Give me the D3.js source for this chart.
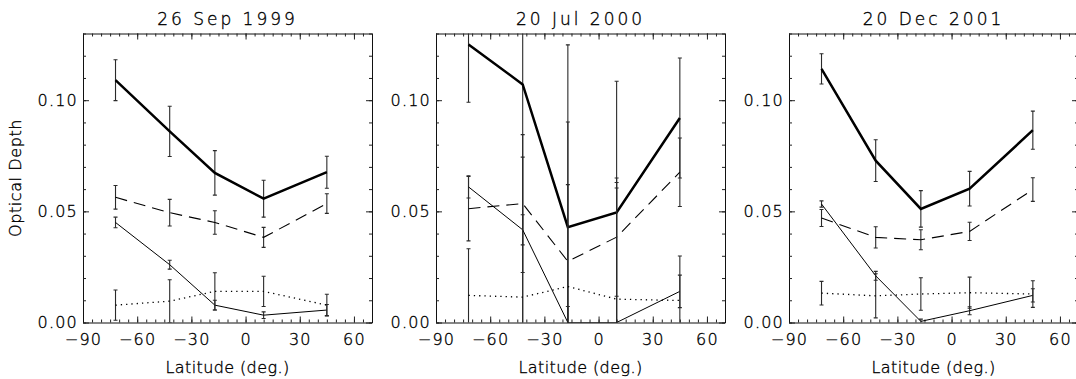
<!DOCTYPE html>
<html><head><meta charset="utf-8">
<script src="https://cdn.jsdelivr.net/npm/d3@7"></script>
<style>
html,body{margin:0;padding:0;background:#fff;overflow:hidden}
svg{display:block}
text{font-family:"DejaVu Sans",sans-serif;fill:#000;font-weight:200;stroke:#000;stroke-width:0.35px}
</style></head><body>
<svg id="chart" width="1076" height="379"></svg>
<script>
// ---------------- data ----------------
const latitudes = [-72, -42, -17, 10, 45];
const panelTitles = ["26 Sep 1999", "20 Jul 2000", "20 Dec 2001"];
const xTickValues = [-90, -60, -30, 0, 30, 60];
const yTickValues = [0.00, 0.05, 0.10];
const xDomain = [-90, 70];
const yDomain = [0, 0.13];
const xLabel = "Latitude (deg.)";
const yLabel = "Optical Depth";

// 26 Sep 1999
const thickSep1999 = [0.1090, 0.0860, 0.0673, 0.0557, 0.0676];
const thickErrSep1999 = [0.0092, 0.0113, 0.0100, 0.0083, 0.0072];
const dashedSep1999 = [0.0563, 0.0494, 0.0450, 0.0383, 0.0535];
const dashedErrSep1999 = [0.0053, 0.0060, 0.0053, 0.0045, 0.0044];
const thinSep1999 = [0.0450, 0.0260, 0.0078, 0.0033, 0.0056];
const thinErrSep1999 = [0.0024, 0.0020, 0.0022, 0.0015, 0.0025];
const dottedSep1999 = [0.0078, 0.0096, 0.0140, 0.0140, 0.0078];
const dottedErrSep1999 = [0.0068, 0.0096, 0.0084, 0.0068, 0.0049];

// 20 Jul 2000
const thickJul2000 = [0.1251, 0.1071, 0.0429, 0.0495, 0.0920];
const thickErrJul2000 = [0.0260, 0.1500, 0.0820, 0.0590, 0.0270];
const dashedJul2000 = [0.0512, 0.0535, 0.0275, 0.0384, 0.0676];
const dashedErrJul2000 = [0.0145, 0.0310, 0.0345, 0.0266, 0.0154];
const thinJul2000 = [0.0610, 0.0417, 0.0000, 0.0000, 0.0140];
const thinErrJul2000 = [0.0050, 0.0068, 0.0072, 0.0630, 0.0073];
const dottedJul2000 = [0.0122, 0.0114, 0.0162, 0.0105, 0.0099];
const dottedErrJul2000 = [0.0210, 0.0630, 0.0740, 0.0500, 0.0200];

// 20 Dec 2001
const thickDec2001 = [0.1141, 0.0728, 0.0511, 0.0602, 0.0865];
const thickErrDec2001 = [0.0068, 0.0094, 0.0082, 0.0078, 0.0086];
const dashedDec2001 = [0.0470, 0.0383, 0.0372, 0.0410, 0.0598];
const dashedErrDec2001 = [0.0038, 0.0048, 0.0045, 0.0041, 0.0053];
const thinDec2001 = [0.0533, 0.0210, 0.0005, 0.0053, 0.0122];
const thinErrDec2001 = [0.0014, 0.0020, 0.0010, 0.0018, 0.0030];
const dottedDec2001 = [0.0132, 0.0120, 0.0128, 0.0134, 0.0128];
const dottedErrDec2001 = [0.0053, 0.0099, 0.0073, 0.0070, 0.0060];

// ---------------- layout / style ----------------
const panelData = [
  [[thickSep1999, thickErrSep1999], [dashedSep1999, dashedErrSep1999], [thinSep1999, thinErrSep1999], [dottedSep1999, dottedErrSep1999]],
  [[thickJul2000, thickErrJul2000], [dashedJul2000, dashedErrJul2000], [thinJul2000, thinErrJul2000], [dottedJul2000, dottedErrJul2000]],
  [[thickDec2001, thickErrDec2001], [dashedDec2001, dashedErrDec2001], [thinDec2001, thinErrDec2001], [dottedDec2001, dottedErrDec2001]]
];
const seriesStyles = [
  {w: 2.5, dash: null},
  {w: 1.1, dash: "12,7"},
  {w: 1.0, dash: null},
  {w: 1.3, dash: "1.3,4"}
];
const panelLeft = [83, 436, 789];
const panelW = 289;
const plotTop = 33.5, plotBottom = 322.5;

const svg = d3.select("#chart");
const minorX = d3.range(-90, 71, 5);
const minorY = d3.range(0, 0.1301, 0.01);

panelData.forEach((series, pi) => {
  const L = panelLeft[pi];
  const x = d3.scaleLinear().domain(xDomain).range([L, L + panelW]);
  const y = d3.scaleLinear().domain(yDomain).range([plotBottom, plotTop]);
  const g = svg.append("g");

  const clipId = "clip" + pi;
  svg.append("clipPath").attr("id", clipId).append("rect")
    .attr("x", L).attr("y", plotTop).attr("width", panelW).attr("height", plotBottom - plotTop);

  g.append("g").attr("transform", `translate(0,${plotBottom})`)
    .call(d3.axisBottom(x).tickValues(xTickValues).tickFormat(d3.format("d")).tickSize(-6).tickSizeOuter(0).tickPadding(11));
  g.append("g").attr("transform", `translate(0,${plotBottom})`)
    .call(d3.axisBottom(x).tickValues(minorX).tickFormat("").tickSize(-3).tickSizeOuter(0)).select(".domain").remove();
  g.append("g").attr("transform", `translate(0,${plotTop})`)
    .call(d3.axisTop(x).tickValues(xTickValues).tickFormat("").tickSize(-6).tickSizeOuter(0));
  g.append("g").attr("transform", `translate(0,${plotTop})`)
    .call(d3.axisTop(x).tickValues(minorX).tickFormat("").tickSize(-3).tickSizeOuter(0)).select(".domain").remove();
  g.append("g").attr("transform", `translate(${L},0)`)
    .call(d3.axisLeft(y).tickValues(yTickValues).tickFormat(d3.format(".2f")).tickSize(-6).tickSizeOuter(0).tickPadding(5));
  g.append("g").attr("transform", `translate(${L},0)`)
    .call(d3.axisLeft(y).tickValues(minorY).tickFormat("").tickSize(-3).tickSizeOuter(0)).select(".domain").remove();
  g.append("g").attr("transform", `translate(${L + panelW},0)`)
    .call(d3.axisRight(y).tickValues(yTickValues).tickFormat("").tickSize(-6).tickSizeOuter(0));
  g.append("g").attr("transform", `translate(${L + panelW},0)`)
    .call(d3.axisRight(y).tickValues(minorY).tickFormat("").tickSize(-3).tickSizeOuter(0)).select(".domain").remove();

  g.selectAll(".domain").attr("stroke", "#111");
  g.selectAll(".tick line").attr("stroke", "#222");
  g.selectAll(".tick text").attr("font-size", 16).attr("font-family", "DejaVu Sans")
    .style("letter-spacing", "1.2px").attr("fill", "#000");

  g.append("text").attr("x", L + panelW / 2).attr("y", 25).attr("text-anchor", "middle")
    .attr("font-size", 17).style("letter-spacing", "3px").style("white-space", "pre")
    .text(panelTitles[pi]);
  g.append("text").attr("x", L + panelW / 2).attr("y", 373).attr("text-anchor", "middle")
    .attr("font-size", 16).style("letter-spacing", "0.4px").text(xLabel);

  const plot = g.append("g").attr("clip-path", `url(#${clipId})`);
  const line = d3.line().x((d, i) => x(latitudes[i])).y(d => y(d));

  series.forEach(([vals, errs], si) => {
    const st = seriesStyles[si];
    const eb = plot.append("g").attr("stroke", "#2a2a2a").attr("stroke-width", 1.1).attr("fill", "none");
    vals.forEach((v, i) => {
      const xc = x(latitudes[i]);
      const y1 = y(v + errs[i]), y0 = y(v - errs[i]);
      eb.append("line").attr("x1", xc).attr("x2", xc).attr("y1", y1).attr("y2", y0);
      eb.append("line").attr("x1", xc - 2).attr("x2", xc + 2).attr("y1", y1).attr("y2", y1);
      eb.append("line").attr("x1", xc - 2).attr("x2", xc + 2).attr("y1", y0).attr("y2", y0);
    });
    plot.append("path").datum(vals).attr("d", line)
      .attr("fill", "none").attr("stroke", "#000").attr("stroke-width", st.w)
      .attr("stroke-dasharray", st.dash).attr("stroke-linejoin", "miter");
  });
});

svg.append("text").attr("transform", `translate(21,${(plotTop + plotBottom) / 2}) rotate(-90)`)
  .attr("text-anchor", "middle").attr("font-size", 16).style("letter-spacing", "0.6px").text(yLabel);
</script>
</body></html>
